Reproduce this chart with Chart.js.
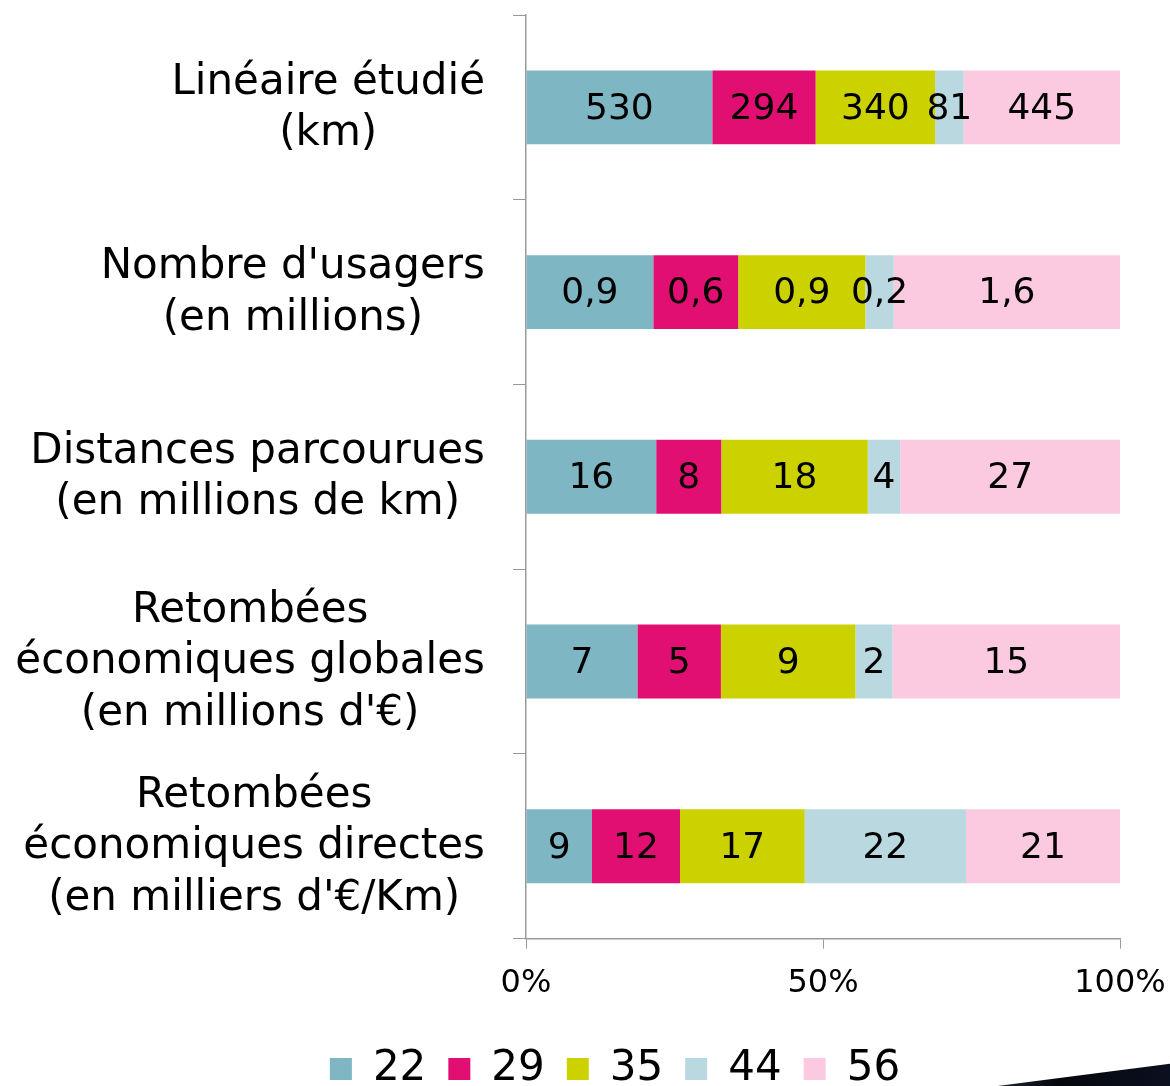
<!DOCTYPE html>
<html lang="fr">
<head>
    <meta charset="UTF-8">
    <title>Retombées par tranche</title>
    <script src="https://cdn.jsdelivr.net/npm/chart.js"></script>
    <style>
        body { margin: 0; overflow: hidden; background: #fff; }
        #wrap { position: relative; width: 1170px; height: 1100px; }
        #swoosh {
            position: absolute; left: 982px; top: 1058px; width: 190px; height: 30px;
            background: linear-gradient(90deg, #2a2f3a, #05070c 40%, #0b1020);
            clip-path: polygon(0 100%, 55% 55%, 100% 18%, 100% 100%);
        }
    </style>
</head>
<body>
    <div id="wrap">
        <canvas id="chart"></canvas>
        <div id="swoosh"></div>
    </div>

    <script>
        const categories = [
            ["Linéaire étudié", "(km)"],
            ["Nombre d'usagers", "(en millions)"],
            ["Distances parcourues", "(en millions de km)"],
            ["Retombées", "économiques globales", "(en millions d'€)"],
            ["Retombées", "économiques directes", "(en milliers d'€/Km)"]
        ];
        const seriesNames = ['22', '29', '35', '44', '56'];
        const s22 = [530, 0.9, 16, 7.2, 9];
        const s29 = [294, 0.6, 8, 5.4, 12];
        const s35 = [340, 0.9, 18, 8.7, 17];
        const s44 = [81, 0.2, 4, 2.4, 22];
        const s56 = [445, 1.6, 27, 14.7, 21];
        const labelDecimals = [0, 1, 0, 0, 0];
        const xTicks = [0, 50, 100];

        const colors = ['#7fb6c4', '#e20f73', '#ccd200', '#bad8df', '#fccae0'];
        const raw = [s22, s29, s35, s44, s56];
        const totals = categories.map((c, i) => raw.reduce((sum, s) => sum + s[i], 0));

        const fontFamily = '"DejaVu Sans", Verdana, sans-serif';

        // category labels: block right-aligned, lines centred on each other
        const yLabelPlugin = {
            id: 'yLabels',
            afterDraw(chart) {
                const ctx = chart.ctx;
                const y = chart.scales.y;
                ctx.save();
                ctx.font = '42px ' + fontFamily;
                ctx.fillStyle = '#000';
                ctx.textAlign = 'center';
                ctx.textBaseline = 'middle';
                categories.forEach((lines, i) => {
                    const cy = y.getPixelForValue(i);
                    const w = Math.max(...lines.map(l => ctx.measureText(l).width));
                    const cx = y.right - 41 - w / 2;
                    lines.forEach((l, j) => {
                        ctx.fillText(l, cx, cy + 1 + (j - (lines.length - 1) / 2) * 51.5);
                    });
                });
                ctx.restore();
            }
        };

        // values written in the middle of each segment
        const valueLabelPlugin = {
            id: 'valueLabels',
            afterDatasetsDraw(chart) {
                const ctx = chart.ctx;
                ctx.save();
                ctx.font = '36px ' + fontFamily;
                ctx.fillStyle = '#000';
                ctx.textAlign = 'center';
                ctx.textBaseline = 'middle';
                chart.data.datasets.forEach((ds, d) => {
                    chart.getDatasetMeta(d).data.forEach((bar, i) => {
                        const v = raw[d][i];
                        const txt = v.toFixed(labelDecimals[i]).replace('.', ',');
                        ctx.fillText(txt, (bar.x + bar.base) / 2, bar.y + 2);
                    });
                });
                ctx.restore();
            }
        };

        const ctx = document.getElementById('chart').getContext('2d');
        new Chart(ctx, {
            type: 'bar',
            data: {
                labels: categories,
                datasets: seriesNames.map((name, d) => ({
                    label: name,
                    data: raw[d].map((v, i) => v / totals[i] * 100),
                    backgroundColor: colors[d],
                    borderWidth: 0,
                    barPercentage: 0.4,
                    categoryPercentage: 1
                }))
            },
            options: {
                indexAxis: 'y',
                responsive: true,
                maintainAspectRatio: false,
                animation: false,
                layout: { padding: { top: 15, right: 0, left: 60, bottom: 0 } },
                scales: {
                    x: {
                        stacked: true,
                        min: 0,
                        max: 100,
                        afterBuildTicks: scale => { scale.ticks = xTicks.map(v => ({ value: v })); },
                        afterFit: scale => { scale.height += 7; scale.paddingRight = 50; },
                        grid: { drawOnChartArea: false, tickLength: 10, color: '#999', offset: false },
                        border: { color: '#999', width: 1.5 },
                        ticks: {
                            padding: 16,
                            color: '#000',
                            font: { family: fontFamily, size: 32 },
                            callback: v => v + '%'
                        }
                    },
                    y: {
                        stacked: true,
                        afterFit: scale => { scale.width = 466; },
                        grid: { offset: true, drawOnChartArea: false, tickLength: 13, color: '#999' },
                        border: { color: '#999', width: 1.5 },
                        ticks: { display: false }
                    }
                },
                plugins: {
                    legend: {
                        position: 'bottom',
                        labels: {
                            color: '#000',
                            boxWidth: 22,
                            boxHeight: 22,
                            padding: 22,
                            font: { family: fontFamily, size: 42 }
                        }
                    },
                    tooltip: { enabled: false }
                }
            },
            plugins: [yLabelPlugin, valueLabelPlugin]
        });
    </script>
</body>
</html>
